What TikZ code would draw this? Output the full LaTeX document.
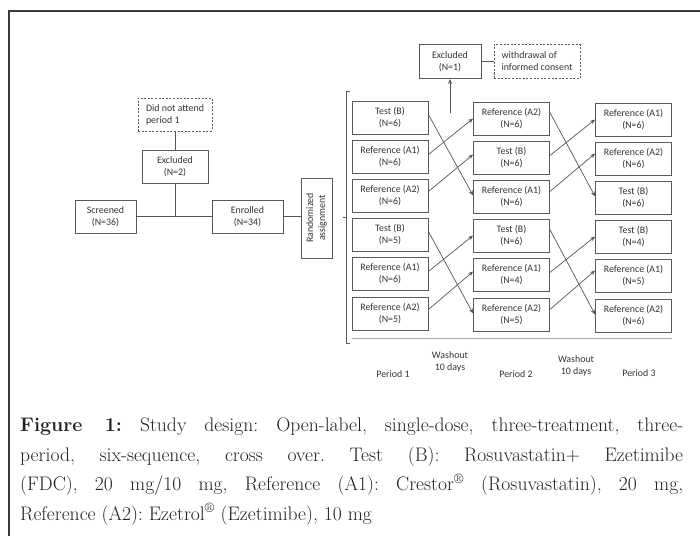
\documentclass[tikz,border=0pt]{standalone}
\usepackage{fontspec}
\newfontfamily\calfont{Carlito}
\usetikzlibrary{arrows.meta}
\definecolor{boxc}{HTML}{5A5A5A}
\definecolor{txtc}{HTML}{333333}
\definecolor{linec}{HTML}{555555}
\definecolor{framec}{HTML}{3A3A3A}
\definecolor{capc}{HTML}{222222}
\begin{document}
\begin{tikzpicture}[x=1pt,y=-1pt,
  stdbox/.style={draw=boxc, line width=0.8pt, minimum width=76pt, minimum height=33pt,
    align=center, font=\calfont\fontsize{9.9}{12}\selectfont, text=txtc, inner sep=1pt},
  dbox/.style={stdbox, dash pattern=on 2pt off 1.6pt},
  plain/.style={font=\calfont\fontsize{9.9}{12}\selectfont, text=txtc, align=center, inner sep=0pt},
  conn/.style={draw=linec, line width=0.7pt},
  arr/.style={conn, -{Stealth[length=5pt,width=4pt]}}]
\useasboundingbox (0,0) rectangle (700,535);
% outer frame
\draw[framec, line width=1.2pt] (9,536) -- (9,11) -- (701,11);

% left part
\node[dbox, minimum width=74pt, minimum height=33pt, align=left] (dna) at (175,114.5) {Did not attend\\period 1};
\node[stdbox, minimum width=66pt] (ex2) at (175,166.5) {Excluded\\(N=2)};
\node[stdbox, minimum width=61pt] (scr) at (105.5,216.5) {Screened\\(N=36)};
\node[stdbox, minimum width=71pt] (enr) at (247.5,216.5) {Enrolled\\(N=34)};
\node[stdbox, minimum width=31pt, minimum height=80pt] (rand) at (316.5,218) {};
\node[plain, rotate=90] (randt) at (rand.center) {Randomized\\assignment};
\draw[conn] (dna.south) -- (ex2.north);
\draw[conn] (scr.east) -- (enr.west);
\coordinate (jn) at (ex2.south |- scr.east);
\draw[conn] (ex2.south) -- (jn);
\draw[conn] (enr.east) -- (rand.west |- enr.east);

% bracket
\coordinate (bt) at (346.5,91);
\coordinate (bb) at (346.5,343);
\draw[conn, draw=boxc] (350,91) -- (bt) -- (bb) -- (350,343);
\draw[conn, draw=boxc] (346.5,217) -- (343,217);
\draw[draw=gray!70, line width=1pt] (352,338.5) -- (672,338.5);

% Excluded N=1
\node[stdbox, minimum width=62pt, minimum height=34pt] (ex1) at (450,61.5) {Excluded\\(N=1)};
\node[dbox, minimum width=86pt, minimum height=34pt, align=left] (wd) at (537,61.5) {withdrawal of\\informed consent};
\draw[conn] (ex1.east) -- (wd.west);
\coordinate (up) at (450,113);
\draw[arr] (up) -- (ex1.south);

% Period 1
\node[stdbox] (a1) at (390,117.5) {Test (B)\\(N=6)};
\node[stdbox] (a2) at (390,156.5) {Reference (A1)\\(N=6)};
\node[stdbox] (a3) at (390,195.5) {Reference (A2)\\(N=6)};
\node[stdbox] (a4) at (390,234.5) {Test (B)\\(N=5)};
\node[stdbox] (a5) at (390,273.5) {Reference (A1)\\(N=6)};
\node[stdbox] (a6) at (390,313.5) {Reference (A2)\\(N=5)};
% Period 2
\node[stdbox] (b1) at (511.5,118.5) {Reference (A2)\\(N=6)};
\node[stdbox] (b2) at (511.5,157.5) {Test (B)\\(N=6)};
\node[stdbox] (b3) at (511.5,196.5) {Reference (A1)\\(N=6)};
\node[stdbox] (b4) at (511.5,235.5) {Test (B)\\(N=6)};
\node[stdbox] (b5) at (511.5,274.5) {Reference (A1)\\(N=4)};
\node[stdbox] (b6) at (511.5,314.5) {Reference (A2)\\(N=5)};
% Period 3
\node[stdbox] (c1) at (633.5,119.5) {Reference (A1)\\(N=6)};
\node[stdbox] (c2) at (633.5,158.5) {Reference (A2)\\(N=6)};
\node[stdbox] (c3) at (633.5,197.5) {Test (B)\\(N=6)};
\node[stdbox] (c4) at (633.5,236.5) {Test (B)\\(N=4)};
\node[stdbox] (c5) at (633.5,275.5) {Reference (A1)\\(N=5)};
\node[stdbox] (c6) at (633.5,315.5) {Reference (A2)\\(N=6)};

% arrows P1 -> P2
\draw[arr] ([yshift=3pt]a1.east) -- ([yshift=1pt]b3.west);
\draw[arr] ([yshift=2pt]a2.east) -- ([yshift=0pt]b1.west);
\draw[arr] ([yshift=4pt]a3.east) -- ([yshift=3pt]b2.west);
\draw[arr] ([yshift=3pt]a4.east) -- ([yshift=1pt]b6.west);
\draw[arr] ([yshift=2pt]a5.east) -- ([yshift=0pt]b4.west);
\draw[arr] ([yshift=4pt]a6.east) -- ([yshift=3pt]b5.west);
% arrows P2 -> P3
\draw[arr] ([yshift=6pt]b1.east) -- ([yshift=1pt]c3.west);
\draw[arr] ([yshift=2pt]b2.east) -- ([yshift=0pt]c1.west);
\draw[arr] ([yshift=5pt]b3.east) -- ([yshift=5pt]c2.west);
\draw[arr] ([yshift=6pt]b4.east) -- ([yshift=1pt]c6.west);
\draw[arr] ([yshift=2pt]b5.east) -- ([yshift=0pt]c4.west);
\draw[arr] ([yshift=5pt]b6.east) -- ([yshift=5pt]c5.west);

% labels
\node[plain] (p1) at (393,374) {Period 1};
\node[plain] (w1) at (450,362) {Washout\\10 days};
\node[plain] (p2) at (516,374) {Period 2};
\node[plain] (w2) at (576,366) {Washout\\10 days};
\node[plain] (p3) at (639,373) {Period 3};

% caption
\node[anchor=north west, text width=663pt, align=justify, inner sep=0pt, text=capc,
  font=\fontsize{19.6}{29.5}\selectfont\frenchspacing] (cap) at (20,418) {\textbf{Figure 1:} Study design: Open-label, single-dose, three-treatment, three-\linebreak period, six-sequence, cross over. Test (B): Rosuvastatin+ Ezetimibe\linebreak (FDC), 20 mg/10 mg, Reference (A1): Crestor\textsuperscript{\textregistered} (Rosuvastatin), 20 mg,\linebreak Reference (A2): Ezetrol\textsuperscript{\textregistered} (Ezetimibe), 10 mg};
\end{tikzpicture}
\end{document}
